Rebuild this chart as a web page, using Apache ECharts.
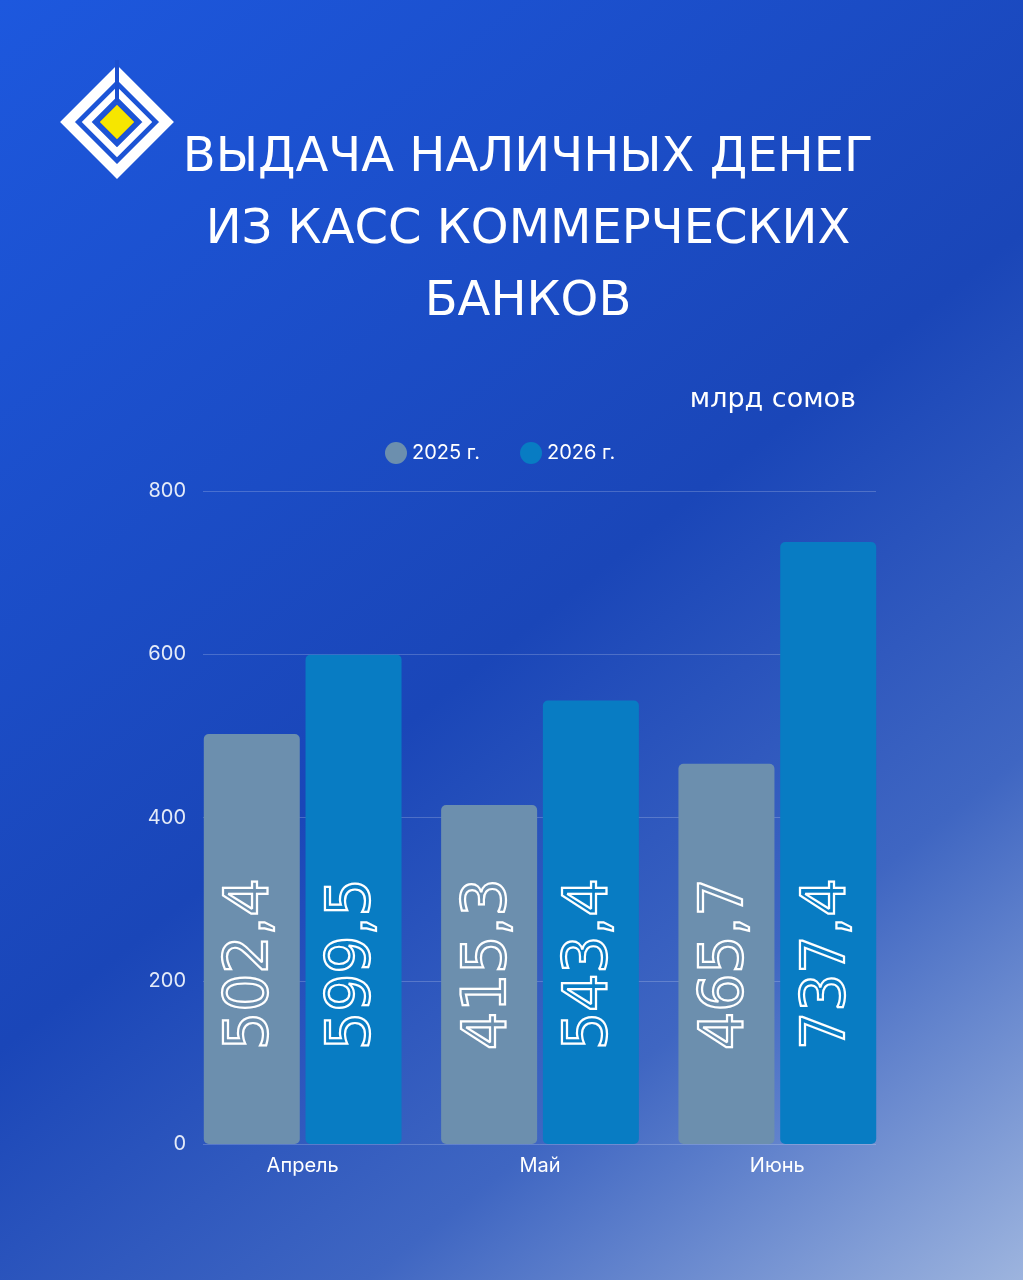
<!DOCTYPE html>
<html><head><meta charset="utf-8">
<script src="https://cdn.jsdelivr.net/npm/echarts@6/dist/echarts.min.js"></script>
<style>html,body{margin:0;padding:0;background:#1a48bb;}#c{width:1023px;height:1280px;}</style>
</head><body><div id="c"></div>
<script>
const categories = ['Апрель', 'Май', 'Июнь'];
const seriesNames = ['2025 г.', '2026 г.'];
const values2025 = [502.4, 415.3, 465.7];
const values2026 = [599.5, 543.4, 737.4];
const titleLines = ['ВЫДАЧА НАЛИЧНЫХ ДЕНЕГ', 'ИЗ КАСС КОММЕРЧЕСКИХ', 'БАНКОВ'];
const unitText = 'млрд сомов';
const yMin = 0, yMax = 800, yStep = 200;

const chart = echarts.init(document.getElementById('c'), null, {renderer: 'canvas'});
const fmt = v => v.toFixed(1).replace('.', ',');
const barLabel = {
  show: true, position: 'insideBottom', rotate: 90, align: 'left', verticalAlign: 'middle',
  distance: 94, formatter: p => fmt(p.value),
  fontFamily: 'DejaVu Sans', fontSize: 60, color: 'rgba(0,0,0,0)',
  textBorderColor: '#ffffff', textBorderWidth: 2.2
};
const BG = '#1b4fcf';
const option = {
  animation: false,
  backgroundColor: {
    type: 'linear', x: 0, y: 0, x2: 1, y2: 1,
    colorStops: [
      {offset: 0, color: '#1d58de'},
      {offset: 0.5, color: '#1a46b8'},
      {offset: 0.75, color: '#3f66c2'},
      {offset: 1, color: '#9db4de'}
    ]
  },
  legend: {
    data: seriesNames, left: 380, top: 437, icon: 'circle', itemWidth: 22, itemHeight: 22,
    itemGap: 40, textStyle: {color: '#ffffff', fontSize: 20, fontFamily: 'Inter'}
  },
  grid: [
    {left: 203, right: 147, top: 491, bottom: 136},
    {left: 184, right: 127, top: 491, bottom: 136}
  ],
  xAxis: [
    {type: 'category', gridIndex: 0, data: categories, show: false},
    {type: 'category', gridIndex: 1, data: categories,
     axisLine: {show: false}, axisTick: {show: false},
     axisLabel: {color: '#ffffff', fontSize: 20, fontFamily: 'Inter', margin: 12}}
  ],
  yAxis: [
    {type: 'value', gridIndex: 0, min: yMin, max: yMax, interval: yStep,
     axisLine: {show: false}, axisTick: {show: false},
     axisLabel: {color: '#e4ebf8', fontSize: 20, fontFamily: 'Inter', margin: 17},
     splitLine: {lineStyle: {color: 'rgba(255,255,255,0.2)', width: 1}}},
    {type: 'value', gridIndex: 1, min: yMin, max: yMax, interval: yStep, show: false, splitLine: {show: false}}
  ],
  series: [
    {name: seriesNames[0], type: 'bar', xAxisIndex: 1, yAxisIndex: 1, data: values2025,
     barWidth: 96, barGap: '6%', itemStyle: {color: '#6c8fae', borderRadius: 5}, label: barLabel},
    {name: seriesNames[1], type: 'bar', xAxisIndex: 1, yAxisIndex: 1, data: values2026,
     barWidth: 96, barGap: '6%', itemStyle: {color: '#087cc3', borderRadius: 5}, label: barLabel}
  ],
  color: ['#8a9fb6', '#0a86c9'],
  graphic: [
    {type: 'text', x: 528, y: 231, style: {
      text: titleLines.join('\n'), fill: '#ffffff', fontSize: 48, fontFamily: 'DejaVu Sans',
      fontWeight: 'normal', lineHeight: 72, align: 'center', verticalAlign: 'middle'}},
    {type: 'text', x: 856, y: 400, style: {
      text: unitText, fill: '#ffffff', fontSize: 27, fontFamily: 'DejaVu Sans', fontWeight: 'normal',
      align: 'right', verticalAlign: 'middle'}},
    {type: 'group', x: 117, y: 122, children: [
      {type: 'polygon', shape: {points: [[0,-49.5],[49.5,0],[0,49.5],[-49.5,0]]},
       style: {fill: null, stroke: '#ffffff', lineWidth: 10.5, lineJoin: 'miter'}},
      {type: 'polygon', shape: {points: [[0,-30.3],[30.3,0],[0,30.3],[-30.3,0]]},
       style: {fill: null, stroke: '#ffffff', lineWidth: 7, lineJoin: 'miter'}},
      {type: 'rect', shape: {x: -2, y: -62, width: 4, height: 42}, style: {fill: BG}},
      {type: 'polygon', shape: {points: [[0,-17],[17,0],[0,17],[-17,0]]},
       style: {fill: '#f6e600', stroke: '#c9b820', lineWidth: 1}}
    ]}
  ]
};
chart.setOption(option);
</script></body></html>
